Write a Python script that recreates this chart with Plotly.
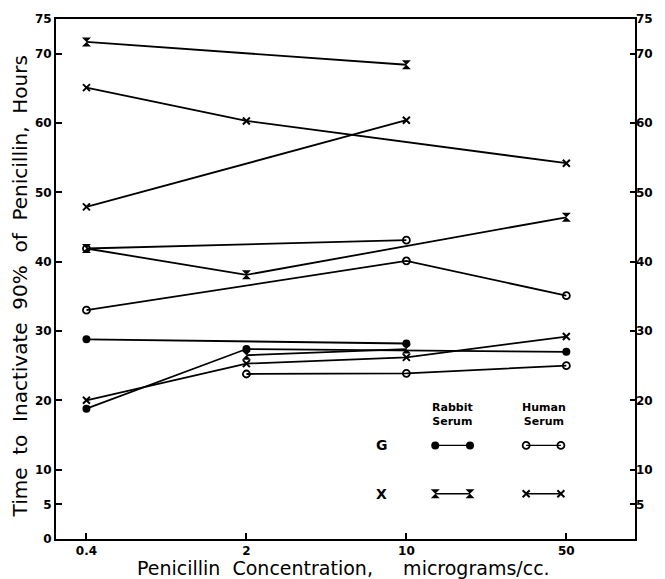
import plotly.graph_objects as go

# ---------------- data ----------------
conc_ticks = [0.4, 2, 10, 50]
conc_tick_text = ["0.4", "2", "10", "50"]
hours_ticks_left = [0, 5, 10, 20, 30, 40, 50, 60, 70, 75]
hours_ticks_right = [5, 10, 20, 30, 40, 50, 60, 70, 75]

# Strain G, rabbit serum (filled circles)
rabbit_G_1_x = [0.4, 10]
rabbit_G_1_y = [28.8, 28.2]
rabbit_G_2_x = [0.4, 2, 50]
rabbit_G_2_y = [18.8, 27.4, 27.0]

# Strain X, rabbit serum (hourglass marks)
rabbit_X_1_x = [0.4, 10]
rabbit_X_1_y = [71.7, 68.4]
rabbit_X_2_x = [0.4, 2, 50]
rabbit_X_2_y = [41.9, 38.1, 46.4]
rabbit_X_3_x = [2, 10]
rabbit_X_3_y = [26.5, 27.4]

# Strain G, human serum (open circles)
human_G_1_x = [0.4, 10]
human_G_1_y = [41.9, 43.1]
human_G_2_x = [0.4, 10, 50]
human_G_2_y = [33.0, 40.1, 35.1]
human_G_3_x = [2, 10, 50]
human_G_3_y = [23.8, 23.9, 25.0]

# Strain X, human serum (x marks)
human_X_1_x = [0.4, 2, 50]
human_X_1_y = [65.1, 60.3, 54.2]
human_X_2_x = [0.4, 10]
human_X_2_y = [47.9, 60.4]
human_X_3_x = [0.4, 2, 10, 50]
human_X_3_y = [20.0, 25.3, 26.2, 29.2]

# ---------------- styles ----------------
FONT = "DejaVu Sans"
INK = "black"
styles = {
    "rabbit_G": dict(symbol="circle", size=8, color=INK, line=dict(width=0)),
    "rabbit_X": dict(symbol="hourglass", size=9, color=INK, line=dict(width=0)),
    "human_G": dict(symbol="circle-open", size=7, color=INK, line=dict(width=1.8, color=INK)),
    "human_X": dict(symbol="x-thin-open", size=7, color=INK, line=dict(width=2, color=INK)),
}

series = [
    ("rabbit_G", rabbit_G_1_x, rabbit_G_1_y),
    ("rabbit_G", rabbit_G_2_x, rabbit_G_2_y),
    ("rabbit_X", rabbit_X_1_x, rabbit_X_1_y),
    ("rabbit_X", rabbit_X_2_x, rabbit_X_2_y),
    ("rabbit_X", rabbit_X_3_x, rabbit_X_3_y),
    ("human_G", human_G_1_x, human_G_1_y),
    ("human_G", human_G_2_x, human_G_2_y),
    ("human_G", human_G_3_x, human_G_3_y),
    ("human_X", human_X_1_x, human_X_1_y),
    ("human_X", human_X_2_x, human_X_2_y),
    ("human_X", human_X_3_x, human_X_3_y),
]

fig = go.Figure()
for key, xs, ys in series:
    fig.add_trace(go.Scatter(
        x=xs, y=ys, mode="lines+markers",
        line=dict(color=INK, width=1.8),
        marker=styles[key], showlegend=False, hoverinfo="skip",
    ))

# invisible trace to carry the right-hand axis
fig.add_trace(go.Scatter(x=[conc_ticks[0]], y=[0], yaxis="y2", mode="markers",
                         marker=dict(opacity=0), showlegend=False, hoverinfo="skip"))

# ---------------- key (inset axes in paper-like units) ----------------
key_cols = {"rabbit": 0.685, "human": 0.842}
key_rows = {"G": 0.180, "X": 0.087}
key_half = 0.030
for strain in ["G", "X"]:
    for serum in ["rabbit", "human"]:
        cx = key_cols[serum]
        cy = key_rows[strain]
        fig.add_trace(go.Scatter(
            x=[cx - key_half, cx + key_half], y=[cy, cy],
            xaxis="x3", yaxis="y3", mode="lines+markers",
            line=dict(color=INK, width=1.3),
            marker=styles[f"{serum}_{strain}"], showlegend=False, hoverinfo="skip",
        ))

def note(text, x, y, size, angle=0):
    return dict(text=text, x=x, y=y, xref="paper", yref="paper", textangle=angle,
                xanchor="center", yanchor="middle", showarrow=False,
                font=dict(family=FONT, size=size, color=INK))

sp2 = "\u00a0 "
annotations = [
    note("<b>Rabbit<br>Serum</b>", key_cols["rabbit"], 0.240, 11),
    note("<b>Human<br>Serum</b>", key_cols["human"], 0.240, 11),
    note("<b>G</b>", 0.563, key_rows["G"], 14),
    note("<b>X</b>", 0.563, key_rows["X"], 14),
    note(sp2.join(["Time", "to", "Inactivate", "90%", "of", "Penicillin,", "Hours"]),
         -0.062, 0.486, 20, -90),
    note("Penicillin" + sp2 + "Concentration," + "\u00a0\u00a0\u00a0\u00a0 " + "micrograms/cc.",
         0.497, -0.056, 19),
]

tickfont = dict(family=FONT, size=12, color=INK, weight="bold")
fig.update_layout(
    width=665, height=579,
    margin=dict(l=56, r=19, t=12, b=40),
    paper_bgcolor="white", plot_bgcolor="rgba(0,0,0,0)",
    showlegend=False,
    annotations=annotations,
    xaxis=dict(
        type="log", range=[-0.531, 1.999],
        tickvals=conc_ticks, ticktext=conc_tick_text,
        ticks="inside", ticklen=6, tickwidth=1.5, tickcolor=INK,
        showline=True, linewidth=2, linecolor=INK, mirror=True,
        showgrid=False, zeroline=False, tickfont=tickfont,
    ),
    yaxis=dict(
        range=[0, 75], tickvals=hours_ticks_left,
        ticks="inside", ticklen=6, tickwidth=1.5, tickcolor=INK,
        showline=True, linewidth=2, linecolor=INK, mirror=True,
        showgrid=False, zeroline=False, tickfont=tickfont,
    ),
    yaxis2=dict(
        range=[0, 75], tickvals=hours_ticks_right, overlaying="y", side="right",
        ticks="inside", ticklen=5, tickwidth=1.5, tickcolor=INK,
        showline=False, showgrid=False, zeroline=False, tickfont=tickfont,
    ),
    xaxis3=dict(domain=[0, 1], range=[0, 1], anchor="y3", visible=False, fixedrange=True),
    yaxis3=dict(domain=[0, 1], range=[0, 1], anchor="x3", visible=False, fixedrange=True),
)

fig.write_html("out.html")
